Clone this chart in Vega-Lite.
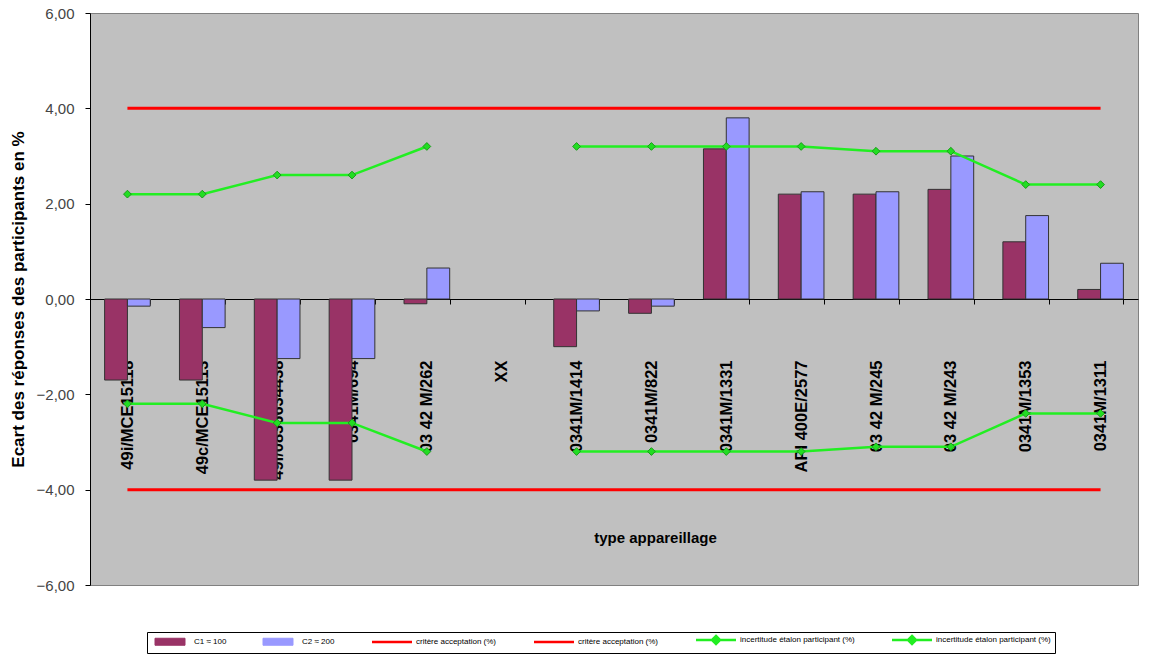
{
  "$schema": "https://vega.github.io/schema/vega-lite/v6.json",
  "width": 1048,
  "height": 572,
  "autosize": {"type": "none"},
  "padding": {"left": 90, "top": 13, "right": 11, "bottom": 79},
  "background": "white",
  "config": {
    "view": {"fill": "#C0C0C0", "stroke": "#808080"},
    "font": "Liberation Sans",
    "axis": {"grid": false}
  },
  "data": {
    "values": [
      {"cat": "49i/MCE15118", "C1": -1.7, "C2": -0.15, "crit_hi": 4, "crit_lo": -4, "inc_hi": 2.2, "inc_lo": -2.2},
      {"cat": "49c/MCE15113", "C1": -1.7, "C2": -0.6, "crit_hi": 4, "crit_lo": -4, "inc_hi": 2.2, "inc_lo": -2.2},
      {"cat": "49i/0836634438", "C1": -3.8, "C2": -1.25, "crit_hi": 4, "crit_lo": -4, "inc_hi": 2.6, "inc_lo": -2.6},
      {"cat": "0341M/694", "C1": -3.8, "C2": -1.25, "crit_hi": 4, "crit_lo": -4, "inc_hi": 2.6, "inc_lo": -2.6},
      {"cat": "03 42 M/262", "C1": -0.1, "C2": 0.65, "crit_hi": 4, "crit_lo": -4, "inc_hi": 3.2, "inc_lo": -3.2},
      {"cat": "XX", "C1": null, "C2": null, "crit_hi": 4, "crit_lo": -4, "inc_hi": null, "inc_lo": null},
      {"cat": "0341M/1414", "C1": -1.0, "C2": -0.25, "crit_hi": 4, "crit_lo": -4, "inc_hi": 3.2, "inc_lo": -3.2},
      {"cat": "0341M/822", "C1": -0.3, "C2": -0.15, "crit_hi": 4, "crit_lo": -4, "inc_hi": 3.2, "inc_lo": -3.2},
      {"cat": "0341M/1331", "C1": 3.15, "C2": 3.8, "crit_hi": 4, "crit_lo": -4, "inc_hi": 3.2, "inc_lo": -3.2},
      {"cat": "API 400E/2577", "C1": 2.2, "C2": 2.25, "crit_hi": 4, "crit_lo": -4, "inc_hi": 3.2, "inc_lo": -3.2},
      {"cat": "03 42 M/245", "C1": 2.2, "C2": 2.25, "crit_hi": 4, "crit_lo": -4, "inc_hi": 3.1, "inc_lo": -3.1},
      {"cat": "03 42 M/243", "C1": 2.3, "C2": 3.0, "crit_hi": 4, "crit_lo": -4, "inc_hi": 3.1, "inc_lo": -3.1},
      {"cat": "0341M/1353", "C1": 1.2, "C2": 1.75, "crit_hi": 4, "crit_lo": -4, "inc_hi": 2.4, "inc_lo": -2.4},
      {"cat": "0341M/1311", "C1": 0.2, "C2": 0.75, "crit_hi": 4, "crit_lo": -4, "inc_hi": 2.4, "inc_lo": -2.4}
    ]
  },
  "encoding": {
    "x": {
      "field": "cat",
      "type": "nominal",
      "sort": null,
      "scale": {
        "domain": ["49i/MCE15118", "49c/MCE15113", "49i/0836634438", "0341M/694", "03 42 M/262", "XX", "0341M/1414", "0341M/822", "0341M/1331", "API 400E/2577", "03 42 M/245", "03 42 M/243", "0341M/1353", "0341M/1311"],
        "paddingInner": 0.39,
        "paddingOuter": 0.195
      },
      "axis": {
        "orient": "bottom",
        "offset": -286,
        "title": "type appareillage",
        "titleFontSize": 15,
        "titleFontWeight": "bold",
        "titleColor": "#000000",
        "titleX": 565,
        "titleY": 238,
        "titleBaseline": "middle",
        "labelAngle": 270,
        "labelAlign": "right",
        "labelBaseline": "middle",
        "labelFontSize": 16.5,
        "labelFontWeight": "bold",
        "labelColor": "#000000",
        "labelPadding": 56,
        "labelLimit": 300,
        "tickBand": "extent",
        "tickSize": 5,
        "tickColor": "#000000",
        "domainColor": "#000000",
        "domainWidth": 1
      }
    },
    "y": {
      "type": "quantitative",
      "scale": {"domain": [-6, 6], "nice": false, "zero": false},
      "axis": {
        "title": "Ecart des réponses des participants en %",
        "values": [-6, -4, -2, 0, 2, 4, 6],
        "labelExpr": "replace(format(datum.value, '.2f'), '.', ',')",
        "labelFontSize": 15,
        "labelColor": "#444444",
        "labelPadding": 11,
        "tickSize": 5,
        "tickColor": "#000000",
        "domainColor": "#000000",
        "titleFontSize": 17,
        "titleFontWeight": "bold",
        "titleColor": "#000000",
        "titlePadding": 9
      }
    }
  },
  "layer": [
    {
      "transform": [{"fold": ["C1", "C2"], "as": ["series", "value"]}],
      "mark": {"type": "bar", "stroke": "#333333", "strokeWidth": 1},
      "encoding": {
        "xOffset": {"field": "series", "type": "nominal", "sort": ["C1", "C2"], "scale": {"paddingInner": 0, "paddingOuter": 0}},
        "y": {"field": "value", "type": "quantitative"},
        "color": {
          "field": "series",
          "type": "nominal",
          "scale": {
            "domain": ["C1", "C2", "crit1", "crit2", "inc1", "inc2"],
            "range": ["#993366", "#9999FF", "#FF0000", "#FF0000", "#22EE22", "#22EE22"]
          },
          "legend": {
            "orient": "none",
            "legendX": 57,
            "legendY": 619,
            "direction": "horizontal",
            "columns": 6,
            "title": null,
            "strokeColor": "#000000",
            "padding": 4,
            "labelFontSize": 8,
            "labelColor": "#000000",
            "labelLimit": 300,
            "symbolSize": 100,
            "symbolOffset": 15,
            "labelOffset": 20,
            "columnPadding": 32,
            "symbolType": {"expr": "(datum.value == 'C1' || datum.value == 'C2') ? 'M-3,-0.7H3V0.7H-3Z' : (datum.value == 'inc1' || datum.value == 'inc2') ? 'M-4,0H4M0,-0.8L0.8,0L0,0.8L-0.8,0Z' : 'M-4,0H4'"},
            "symbolStrokeWidth": {"expr": "(datum.value == 'C1' || datum.value == 'C2') ? 1 : 2.5"},
            "labelExpr": "datum.value == 'C1' ? 'C1 ≈ 100' : datum.value == 'C2' ? 'C2 ≈ 200' : (datum.value == 'crit1' || datum.value == 'crit2') ? 'critère acceptation (%)' : 'incertitude étalon participant (%)'"
          }
        }
      }
    },
    {
      "mark": {"type": "line", "strokeWidth": 3},
      "encoding": {"y": {"field": "crit_hi", "type": "quantitative"}, "color": {"datum": "crit1"}}
    },
    {
      "mark": {"type": "line", "strokeWidth": 3},
      "encoding": {"y": {"field": "crit_lo", "type": "quantitative"}, "color": {"datum": "crit2"}}
    },
    {
      "mark": {"type": "line", "strokeWidth": 2.5, "invalid": "break-paths-show-domains",
               "point": {"shape": "diamond", "size": 60, "filled": true, "fill": "#22DD22", "stroke": "#1A9A1A", "strokeWidth": 1}},
      "encoding": {"y": {"field": "inc_hi", "type": "quantitative"}, "color": {"datum": "inc1"}}
    },
    {
      "mark": {"type": "line", "strokeWidth": 2.5, "invalid": "break-paths-show-domains",
               "point": {"shape": "diamond", "size": 60, "filled": true, "fill": "#22DD22", "stroke": "#1A9A1A", "strokeWidth": 1}},
      "encoding": {"y": {"field": "inc_lo", "type": "quantitative"}, "color": {"datum": "inc2"}}
    }
  ]
}
